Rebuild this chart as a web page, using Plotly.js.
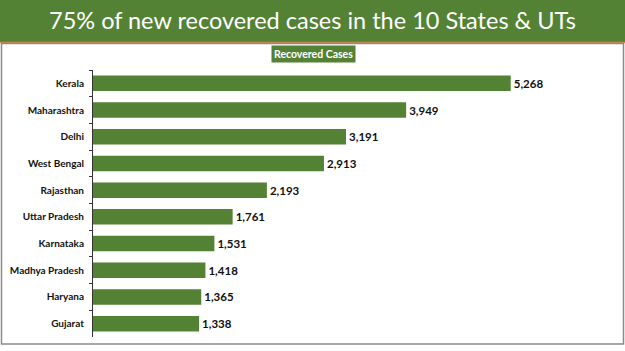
<!DOCTYPE html>
<html>
<head>
<meta charset="utf-8">
<script src="https://cdn.plot.ly/plotly-3.0.1.min.js"></script>
<style>html,body{margin:0;padding:0;background:#fff;}#chart{width:625px;height:351px;}</style>
</head>
<body>
<div id="chart"></div>
<script>
const states = ["Kerala","Maharashtra","Delhi","West Bengal","Rajasthan","Uttar Pradesh","Karnataka","Madhya Pradesh","Haryana","Gujarat"];
const recovered = [5268,3949,3191,2913,2193,1761,1531,1418,1365,1338];
const titleText = "75% of new recovered cases in the 10 States & UTs";
const seriesName = "Recovered Cases";

const W = 625, H = 351;
const M = {l: 93, r: 25, t: 70, b: 14};
const pw = W - M.l - M.r, ph = H - M.t - M.b;
const px = x => (x - M.l) / pw;
const py = y => (H - M.b - y) / ph;
const green = "#548235";

const trace = {
  type: "bar",
  orientation: "h",
  y: states,
  x: recovered,
  marker: {color: green},
  texttemplate: "%{x:,}",
  textposition: "outside",
  textfont: {family: "Lato, Open Sans, sans-serif", size: 11.5, color: "#111", weight: "bold"},
  cliponaxis: false,
  hoverinfo: "none"
};

const layout = {
  width: W, height: H,
  margin: M,
  paper_bgcolor: "#fff",
  plot_bgcolor: "#fff",
  showlegend: false,
  bargap: 0.42,
  title: {
    text: titleText,
    font: {family: "Lato, Open Sans, sans-serif", size: 23.5, color: "#ffffff"},
    x: 0.5, xref: "container", xanchor: "center",
    y: 1 - 21/H, yref: "container", yanchor: "middle"
  },
  xaxis: {range: [0, 6394], visible: false, fixedrange: true},
  yaxis: {
    autorange: "reversed",
    showline: true, linecolor: "#333", linewidth: 1,
    ticks: "outside", tickson: "boundaries", ticklen: 3, tickcolor: "#333",
    tickfont: {family: "Lato, Open Sans, sans-serif", size: 10, color: "#111", weight: "bold"},
    ticklabelstandoff: 6,
    showgrid: false, zeroline: false, fixedrange: true
  },
  shapes: [
    {type: "rect", xref: "paper", yref: "paper", x0: px(0), x1: px(W), y0: py(42), y1: py(0), fillcolor: green, line: {width: 0}, layer: "below"},
    {type: "line", xref: "paper", yref: "paper", x0: px(0), x1: px(W), y0: py(42.5), y1: py(42.5), line: {color: "#d8834a", width: 1.5}},
    {type: "rect", xref: "paper", yref: "paper", x0: px(1.5), x1: px(623.5), y0: py(344), y1: py(43.5), line: {color: "#8a8a8a", width: 1.5}, fillcolor: "rgba(0,0,0,0)"}
  ],
  annotations: [
    {xref: "paper", yref: "paper", x: px(313), y: py(54.5), xanchor: "center", yanchor: "middle",
     text: seriesName, showarrow: false,
     font: {family: "Lato, Open Sans, sans-serif", size: 10.5, color: "#fff", weight: "bold"},
     bgcolor: green, borderpad: 2}
  ]
};

Plotly.newPlot("chart", [trace], layout, {displayModeBar: false, staticPlot: true});
</script>
</body>
</html>
